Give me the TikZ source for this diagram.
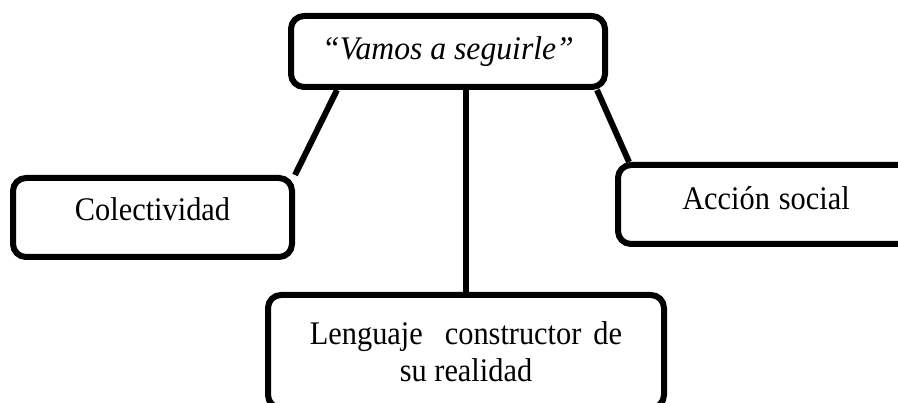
\documentclass[tikz,border=0pt]{standalone}
\usepackage{fontspec}
\setmainfont{Liberation Serif}[FakeStretch=0.92, ItalicFeatures={FakeStretch=0.96}]
\usetikzlibrary{positioning}

\begin{document}
\begin{tikzpicture}[x=1pt, y=1pt, line width=6pt,
    box/.style={draw, rounded corners=13pt, align=center, inner sep=0pt,
                font=\fontsize{33}{37}\selectfont},
    link/.style={line cap=butt}]

% Frame of the picture
\useasboundingbox (0,0) rectangle (898,-403);

% Central idea
\node[box, minimum width=314pt, minimum height=71pt,
      text height=24pt, text depth=7pt] (idea) at (448,-51.5)
    {\textit{``Vamos a seguirle''}};

% Three branches
\node[box, minimum width=279pt, minimum height=79pt,
      text height=20pt, text depth=13pt] (colect) at (152.5,-217.5)
    {Colectividad};
\node[box, minimum width=296pt, minimum height=79pt,
      text height=22pt, text depth=11pt] (accion) at (766,-204.5)
    {Acci\'on\hspace{9pt}social};
\node[box, minimum width=396pt, minimum height=113pt] (lengua) at (466,-351.5)
    {Lenguaje\hspace{22pt}constructor\hspace{12pt}de\\su realidad};

% Connectors
\draw[link] ([xshift=-111pt]idea.south) -- (colect.north east);
\draw[link] (lengua.north) -- (lengua.north |- idea.south);
\draw[link] ([xshift=149pt]idea.south) -- ([xshift=14pt]accion.north west);

\end{tikzpicture}
\end{document}
